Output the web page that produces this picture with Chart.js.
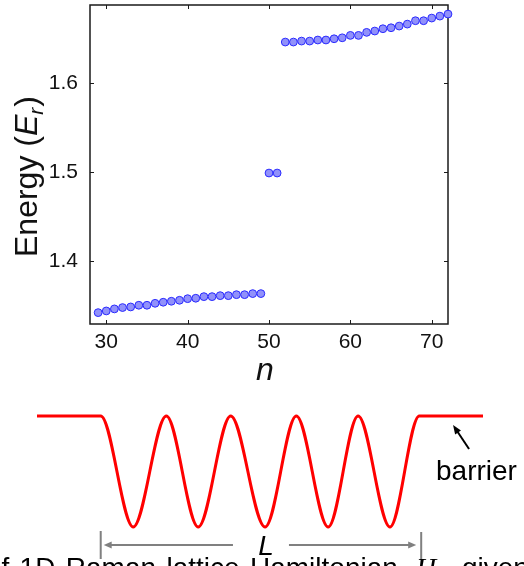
<!DOCTYPE html>
<html>
<head>
<meta charset="utf-8">
<title>Energy spectrum and Raman lattice</title>
<script src="https://cdn.jsdelivr.net/npm/chart.js@4.4.1/dist/chart.umd.min.js"></script>
<style>
  html, body { margin: 0; padding: 0; background: #fff; }
  #wrap { position: relative; width: 524px; height: 566px; overflow: hidden; }
  #spectrum { position: absolute; left: 0; top: 0; }
  #lattice { position: absolute; left: 0; top: 390px; }
</style>
</head>
<body>
<div id="wrap">
  <canvas id="spectrum" width="524" height="390"></canvas>
  <canvas id="lattice" width="524" height="176"></canvas>
</div>
<script>
// Eigenstate index n and energy (in units of E_r)
const nLower = [29, 30, 31, 32, 33, 34, 35, 36, 37, 38, 39, 40, 41, 42, 43, 44, 45, 46, 47, 48, 49];
const eLower = [1.3419, 1.3438, 1.3461, 1.3476, 1.3483, 1.3502, 1.3502, 1.3524, 1.3536, 1.3547, 1.3558,
                1.3576, 1.3581, 1.3599, 1.3599, 1.3610, 1.3610, 1.3621, 1.3621, 1.3633, 1.3633];
const nEdge = [50, 51];
const eEdge = [1.4990, 1.4990];
const nUpper = [52, 53, 54, 55, 56, 57, 58, 59, 60, 61, 62, 63, 64, 65, 66, 67, 68, 69, 70, 71, 72];
const eUpper = [1.6464, 1.6464, 1.6475, 1.6475, 1.6487, 1.6487, 1.6501, 1.6512, 1.6539, 1.6539, 1.6573,
                1.6588, 1.6614, 1.6625, 1.6644, 1.6666, 1.6704, 1.6704, 1.6734, 1.6756, 1.6779];

const xTicks = [30, 40, 50, 60, 70];
const yTicks = [1.4, 1.5, 1.6];
const xRange = [28, 72];
const yRange = [1.3291, 1.6881];

// Lattice potential: well edges and extrema positions (lattice sites) and depth levels
const siteX = [-1, 0, 0.51, 1.03, 1.53, 2.04, 2.58, 3.07, 3.57, 4.04, 4.54, 5, 6];
const siteV = [1, 1, 0, 1, 0, 1, 0, 1, 0, 1, 0, 1, 1];
const lengthSpan = [0, 5.03];

const SANS = '"Liberation Sans", Arial, Helvetica, sans-serif';
const SERIF = '"Liberation Serif", "Times New Roman", serif';

const toPoints = (xs, ys) => xs.map((v, i) => ({ x: v, y: ys[i] }));
const spectrumPoints = [].concat(
  toPoints(nLower, eLower),
  toPoints(nEdge, eEdge),
  toPoints(nUpper, eUpper)
);

const framePlugin = {
  id: 'frame',
  beforeDatasetsDraw(chart) {
    const { ctx, chartArea: a, scales: { x, y } } = chart;
    ctx.save();
    ctx.strokeStyle = '#1a1a1a';
    ctx.lineWidth = 1.5;
    ctx.strokeRect(a.left, a.top, a.right - a.left, a.bottom - a.top);
    ctx.lineWidth = 1;
    ctx.beginPath();
    const tl = 4;
    x.ticks.forEach(t => {
      const px = Math.round(x.getPixelForValue(t.value)) + 0.5;
      ctx.moveTo(px, a.bottom); ctx.lineTo(px, a.bottom - tl);
      ctx.moveTo(px, a.top); ctx.lineTo(px, a.top + tl);
    });
    y.ticks.forEach(t => {
      const py = Math.round(y.getPixelForValue(t.value)) + 0.5;
      ctx.moveTo(a.left, py); ctx.lineTo(a.left + tl, py);
      ctx.moveTo(a.right, py); ctx.lineTo(a.right - tl, py);
    });
    ctx.stroke();
    ctx.restore();
  },
  afterDraw(chart) {
    const { ctx, chartArea: a } = chart;
    ctx.save();
    ctx.fillStyle = '#111';
    ctx.textBaseline = 'alphabetic';
    // x-axis label
    ctx.font = 'italic 32px ' + SANS;
    ctx.textAlign = 'center';
    ctx.fillText('n', (a.left + a.right) / 2 - 4, 380);
    // y-axis label, rotated
    ctx.translate(37, 257);
    ctx.rotate(-Math.PI / 2);
    ctx.textAlign = 'left';
    let cx = 0;
    ctx.font = '32px ' + SANS;
    ctx.fillText('Energy (', cx, 0);
    cx += ctx.measureText('Energy (').width;
    ctx.font = 'italic 32px ' + SANS;
    ctx.fillText('E', cx, 0);
    cx += ctx.measureText('E').width;
    ctx.font = 'italic 21px ' + SANS;
    ctx.fillText('r', cx, 6);
    cx += ctx.measureText('r').width + 1;
    ctx.font = '32px ' + SANS;
    ctx.fillText(')', cx, 0);
    ctx.restore();
  }
};

new Chart(document.getElementById('spectrum'), {
  type: 'scatter',
  data: {
    datasets: [{
      data: spectrumPoints,
      pointRadius: 3.9,
      pointHoverRadius: 3.9,
      pointBackgroundColor: 'rgb(145, 145, 250)',
      pointBorderColor: '#2a2aff',
      pointBorderWidth: 1,
      clip: false
    }]
  },
  options: {
    responsive: false,
    animation: false,
    events: [],
    layout: { padding: { top: 5, right: 76, left: 0, bottom: 0 } },
    plugins: { legend: { display: false }, tooltip: { enabled: false } },
    scales: {
      x: {
        type: 'linear',
        min: xRange[0], max: xRange[1],
        grid: { display: false, drawTicks: false },
        border: { display: false },
        afterBuildTicks: s => { s.ticks = xTicks.map(v => ({ value: v })); },
        afterFit: s => { s.height = 66; s.paddingLeft = 0; s.paddingRight = 0; },
        ticks: {
          padding: 6,
          color: '#111',
          font: { family: SANS, size: 21 },
          callback: v => String(v)
        }
      },
      y: {
        type: 'linear',
        min: yRange[0], max: yRange[1],
        grid: { display: false, drawTicks: false },
        border: { display: false },
        afterBuildTicks: s => { s.ticks = yTicks.map(v => ({ value: v })); },
        afterFit: s => { s.width = 90; s.paddingTop = 0; s.paddingBottom = 0; },
        ticks: {
          padding: 12,
          color: '#111',
          font: { family: SANS, size: 21 },
          callback: v => Number(v).toFixed(1)
        }
      }
    }
  },
  plugins: [framePlugin]
});

// Schematic of the finite lattice with barriers
const OFF = 390;
function arrowHead(ctx, tipX, tipY, dirX, dirY, len, half) {
  const n = Math.hypot(dirX, dirY);
  const ux = dirX / n, uy = dirY / n;
  const bx = tipX - ux * len, by = tipY - uy * len;
  ctx.beginPath();
  ctx.moveTo(tipX, tipY);
  ctx.lineTo(bx - uy * half, by + ux * half);
  ctx.lineTo(bx + uy * half, by - ux * half);
  ctx.closePath();
  ctx.fill();
}

const latticeNotes = {
  id: 'latticeNotes',
  afterDraw(chart) {
    const { ctx, chartArea: a, scales: { x, y } } = chart;
    ctx.save();
    // length markers
    const xl = x.getPixelForValue(lengthSpan[0]);
    const xr = x.getPixelForValue(lengthSpan[1]);
    const ay = a.bottom + 18;
    const mid = (xl + xr) / 2;
    ctx.strokeStyle = '#808080';
    ctx.fillStyle = '#808080';
    ctx.lineWidth = 2;
    ctx.beginPath();
    ctx.moveTo(xl, a.bottom + 4); ctx.lineTo(xl, a.bottom + 32);
    ctx.moveTo(xr, a.bottom + 5); ctx.lineTo(xr, chart.height + 2);
    ctx.moveTo(mid - 28, ay); ctx.lineTo(xl + 8, ay);
    ctx.moveTo(mid + 28, ay); ctx.lineTo(xr - 8, ay);
    ctx.stroke();
    arrowHead(ctx, xl + 3, ay, -1, 0, 8, 3.5);
    arrowHead(ctx, xr - 5, ay, 1, 0, 8, 3.5);
    ctx.fillStyle = '#000';
    ctx.font = 'italic 28px ' + SANS;
    ctx.textAlign = 'center';
    ctx.textBaseline = 'alphabetic';
    ctx.fillText('L', mid + 5, a.bottom + 28);

    // barrier label and arrow
    const tipX = x.getPixelForValue(5.53);
    const tipY = y.getPixelForValue(1) + 9;
    ctx.strokeStyle = '#000';
    ctx.lineWidth = 2;
    ctx.beginPath();
    ctx.moveTo(tipX + 16, tipY + 24);
    ctx.lineTo(tipX + 3, tipY + 4.5);
    ctx.stroke();
    arrowHead(ctx, tipX, tipY, -16, -24, 9, 3.5);
    ctx.font = '28px ' + SANS;
    ctx.textAlign = 'left';
    ctx.fillText('barrier', 436, 480 - OFF);

    // caption line running below (justified, so word gaps are wider)
    const base = 577 - OFF;
    ctx.font = '28px ' + SANS;
    const words = ['of', '1D', 'Raman', 'lattice'];
    const gap = 10.4;
    let wx = 250 - gap * words.length - words.reduce((s, w) => s + ctx.measureText(w).width, 0);
    words.forEach(w => { ctx.fillText(w, wx, base); wx += ctx.measureText(w).width + gap; });
    ctx.fillText('Hamiltonian', 250, base);
    ctx.font = 'italic 28px ' + SERIF;
    ctx.fillText('H', 416, base);
    const hw = ctx.measureText('H').width;
    ctx.font = 'italic 19px ' + SERIF;
    ctx.fillText('L', 416 + hw - 2, base + 6);
    ctx.font = '28px ' + SANS;
    ctx.fillText('given', 462, base);
    ctx.restore();
  }
};

new Chart(document.getElementById('lattice'), {
  type: 'line',
  data: {
    datasets: [{
      data: toPoints(siteX, siteV),
      borderColor: '#ff0000',
      borderWidth: 3,
      pointRadius: 0,
      cubicInterpolationMode: 'monotone',
      fill: false,
      clip: false
    }]
  },
  options: {
    responsive: false,
    animation: false,
    events: [],
    layout: { padding: { top: 26, right: 41, left: 37, bottom: 39 } },
    plugins: { legend: { display: false }, tooltip: { enabled: false } },
    scales: {
      x: { type: 'linear', min: -1, max: 6, display: false },
      y: { type: 'linear', min: 0, max: 1, display: false }
    }
  },
  plugins: [latticeNotes]
});
</script>
</body>
</html>
